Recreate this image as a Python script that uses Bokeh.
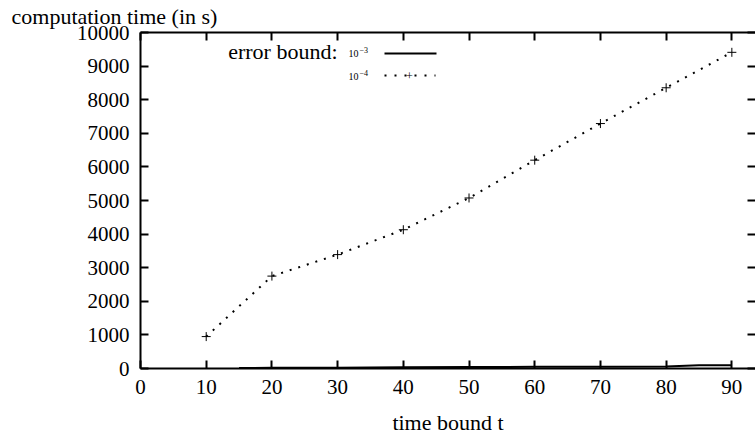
from bokeh.plotting import figure
from bokeh.models import (Range1d, FixedTicker, LinearAxis, Label, PolyAnnotation,
                          CustomJSTickFormatter)
from bokeh.embed import file_html
from bokeh.resources import INLINE

# ---- data ----
t_e3 = [15, 20, 30, 40, 50, 60, 70, 80, 85, 90]
time_e3 = [15, 20, 25, 40, 45, 50, 55, 60, 100, 100]

t_e4 = [10, 20, 30, 40, 50, 60, 70, 80, 90]
time_e4 = [950, 2750, 3390, 4130, 5075, 6200, 7290, 8355, 9410]

x_ticks = [0, 10, 20, 30, 40, 50, 60, 70, 80, 90]
y_ticks = [0, 1000, 2000, 3000, 4000, 5000, 6000, 7000, 8000, 9000, 10000]

FONT = "Liberation Serif"
FS = "21px"
FS_W = "22px"

p = figure(width=755, height=437, output_backend="svg", toolbar_location=None,
           x_range=Range1d(0, 93.6), y_range=Range1d(0, 10000),
           min_border_left=140, min_border_right=0, min_border_top=32,
           min_border_bottom=40)
p.grid.visible = False
p.outline_line_color = None
p.background_fill_color = "white"
p.border_fill_color = "white"

# title used as the horizontal y-axis caption at top-left
p.title.text = "computation time (in s)"
p.title.align = "left"
p.title.vertical_align = "top"
p.title.offset = -129
p.title.standoff = 4
p.title.text_font = FONT
p.title.text_font_size = FS_W
p.title.text_font_style = "normal"
p.title.text_color = "black"

def style_axis(ax, ticks, labels=True):
    ax.ticker = FixedTicker(ticks=ticks)
    ax.major_tick_in = 8
    ax.major_tick_out = 0
    ax.minor_tick_line_color = None
    ax.major_tick_line_width = 2
    ax.major_tick_line_color = "black"
    ax.axis_line_width = 2
    ax.axis_line_color = "black"
    ax.major_label_text_font = FONT
    ax.major_label_text_font_size = FS
    ax.major_label_text_color = "black"
    if not labels:
        ax.formatter = CustomJSTickFormatter(code="return ''")
        ax.major_label_standoff = 0
        ax.major_label_text_font_size = "1px"

style_axis(p.xaxis[0], x_ticks)
style_axis(p.yaxis[0], y_ticks)
p.xaxis[0].major_label_standoff = 11
p.yaxis[0].major_label_standoff = 11
p.xaxis[0].axis_label = "time bound t"
p.xaxis[0].axis_label_text_font = FONT
p.xaxis[0].axis_label_text_font_size = FS_W
p.xaxis[0].axis_label_text_font_style = "normal"
p.xaxis[0].axis_label_text_color = "black"
p.xaxis[0].axis_label_standoff = 13

top = LinearAxis()
style_axis(top, x_ticks, labels=False)
p.add_layout(top, "above")
right = LinearAxis()
style_axis(right, y_ticks, labels=False)
right.axis_line_color = None
p.add_layout(right, "right")

# ---- series ----
p.line(t_e3, time_e3, line_color="black", line_width=2)
p.line(t_e4, time_e4, line_color="black", line_width=2, line_dash="2 7")
p.scatter(t_e4, time_e4, marker="cross", size=9, line_color="black", line_width=1)

# ---- key ----
def key_text(x, y, txt, size, align="left"):
    p.add_layout(Label(x=x, y=y, x_units="screen", y_units="screen", text=txt,
                       text_font=FONT, text_font_size=size, text_baseline="middle",
                       text_align=align, text_color="black"))

key_text(197, 317, "error bound:", FS_W, align="right")
key_text(208, 315, "10", "10px")
key_text(219, 319, "\u22123", "8px")
key_text(208, 292, "10", "10px")
key_text(219, 296, "\u22124", "8px")
p.add_layout(PolyAnnotation(xs=[244, 296, 296, 244], ys=[315, 315, 315, 315],
                            xs_units="screen", ys_units="screen", fill_alpha=0,
                            line_color="black", line_alpha=1, line_width=2))
p.add_layout(PolyAnnotation(xs=[244, 295], ys=[293, 293],
                            xs_units="screen", ys_units="screen", fill_alpha=0,
                            line_color="black", line_alpha=1, line_width=2,
                            line_dash="2 8"))
key_text(269, 293, "+", "12px", align="center")

open("out.html", "w").write(file_html(p, INLINE))
